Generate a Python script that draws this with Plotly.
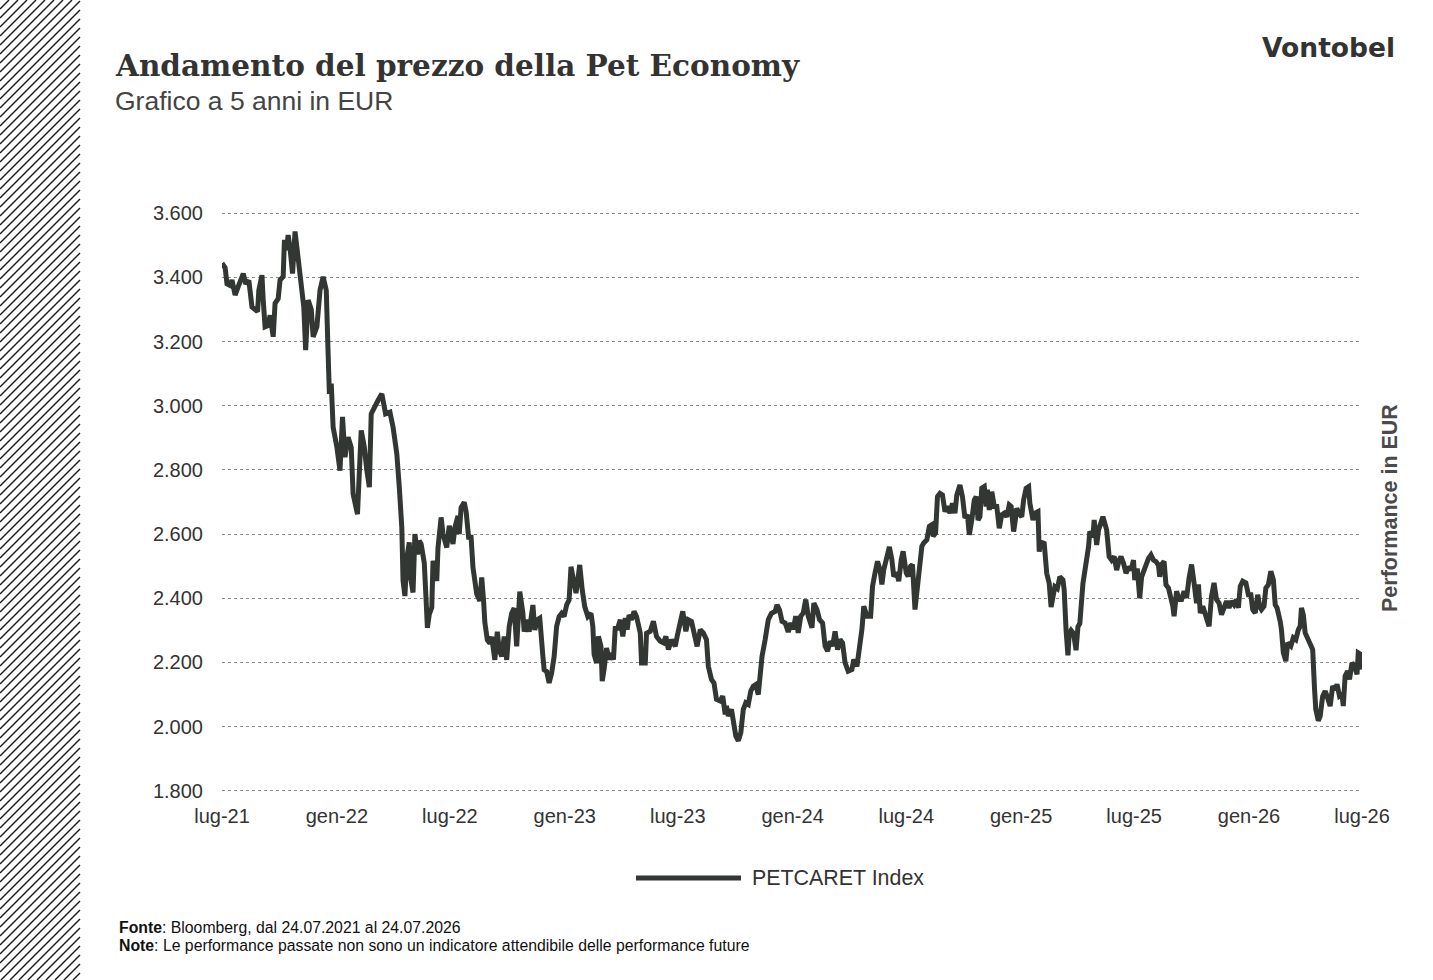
import pandas as pd
import plotly.graph_objects as go

# ---------------- data ----------------
start_date = "2021-07-24"
series_name = "PETCARET Index"

# days since 24.07.2021 for each reading
day_offsets = [
    0, 5, 8, 13, 16, 21, 26, 30, 34, 38,
    43, 48, 53, 57, 59, 64, 66, 69, 74, 77,
    82, 85, 90, 93, 98, 100, 103, 106, 109, 113,
    117, 122, 128, 131, 134, 138, 143, 146, 152, 157,
    162, 167, 170, 172, 175, 178, 184, 189, 193, 197,
    202, 207, 210, 217, 223, 228, 232, 236, 239, 244,
    250, 256, 259, 262, 269, 274, 280, 282, 284, 288,
    290, 293, 296, 300, 302, 306, 309, 313, 316, 319,
    324, 327, 329, 332, 336, 338, 344, 346, 351, 354,
    360, 364, 370, 373, 378, 380, 383, 388, 391, 395,
    399, 402, 405, 408, 413, 416, 419, 421, 425, 429,
    432, 435, 437, 441, 444, 448, 452, 456, 460, 464,
    468, 472, 475, 477, 482, 484, 488, 492, 498, 501,
    505, 509, 514, 516, 520, 524, 528, 532, 536, 540,
    544, 548, 552, 556, 559, 563, 567, 570, 573, 577,
    581, 586, 591, 594, 596, 600, 603, 607, 609, 612,
    616, 620, 623, 627, 630, 633, 638, 642, 646, 649,
    652, 656, 660, 664, 670, 672, 678, 680, 686, 691,
    696, 702, 707, 711, 715, 720, 726, 729, 734, 738,
    743, 747, 752, 758, 761, 766, 771, 776, 779, 784,
    788, 792, 798, 802, 806, 808, 811, 816, 820, 823,
    827, 831, 835, 839, 843, 847, 851, 855, 859, 862,
    865, 870, 872, 875, 880, 886, 889, 893, 897, 902,
    907, 911, 915, 919, 923, 927, 931, 935, 939, 945,
    948, 953, 957, 962, 966, 970, 974, 978, 982, 986,
    990, 994, 998, 1003, 1009, 1012, 1017, 1021, 1025, 1028,
    1033, 1039, 1042, 1046, 1050, 1054, 1057, 1060, 1065, 1069,
    1073, 1076, 1081, 1084, 1088, 1091, 1096, 1099, 1103, 1106,
    1110, 1113, 1117, 1121, 1124, 1129, 1133, 1137, 1139, 1143,
    1146, 1150, 1154, 1158, 1162, 1166, 1170, 1174, 1177, 1182,
    1186, 1190, 1194, 1197, 1201, 1205, 1208, 1211, 1214, 1217,
    1221, 1224, 1226, 1229, 1233, 1237, 1241, 1245, 1249, 1253,
    1257, 1261, 1264, 1268, 1270, 1273, 1278, 1281, 1284, 1288,
    1292, 1294, 1299, 1302, 1307, 1309, 1311, 1317, 1321, 1325,
    1328, 1332, 1334, 1338, 1342, 1347, 1349, 1352, 1355, 1357,
    1360, 1364, 1368, 1371, 1374, 1379, 1382, 1385, 1388, 1390,
    1395, 1397, 1401, 1404, 1406, 1411, 1414, 1417, 1421, 1425,
    1429, 1433, 1437, 1440, 1444, 1448, 1452, 1456, 1460, 1462,
    1466, 1470, 1473, 1477, 1480, 1484, 1488, 1492, 1496, 1500,
    1502, 1505, 1509, 1512, 1516, 1520, 1523, 1525, 1529, 1533,
    1537, 1541, 1545, 1549, 1553, 1557, 1561, 1564, 1567, 1571,
    1575, 1578, 1581, 1585, 1589, 1593, 1597, 1601, 1605, 1609,
    1613, 1617, 1621, 1625, 1628, 1631, 1635, 1640, 1644, 1648,
    1651, 1655, 1659, 1662, 1665, 1669, 1672, 1676, 1680, 1684,
    1687, 1690, 1695, 1697, 1700, 1704, 1707, 1712, 1716, 1720,
    1724, 1727, 1729, 1732, 1735, 1739, 1743, 1747, 1750, 1752,
    1756, 1759, 1763, 1767, 1770, 1775, 1779, 1783, 1786, 1790,
    1794, 1796, 1799, 1803, 1806, 1810, 1814, 1818, 1820, 1824,
    1826,
]

index_values = [
    3444, 3430, 3380, 3375, 3392, 3345, 3371, 3390, 3412, 3380,
    3390, 3308, 3300, 3293, 3360, 3407, 3330, 3246, 3250, 3282,
    3215, 3319, 3334, 3392, 3402, 3517, 3485, 3532, 3490, 3412,
    3543, 3465, 3371, 3308, 3173, 3329, 3300, 3215, 3246, 3360,
    3402, 3360, 3162, 3037, 3069, 2933, 2871, 2798, 2965, 2840,
    2902, 2870, 2725, 2662, 2923, 2871, 2798, 2746, 2975, 2996,
    3017, 3037, 3000, 2975, 2980, 2933, 2850, 2767, 2746, 2620,
    2454, 2407, 2527, 2574, 2465, 2418, 2600, 2537, 2579, 2569,
    2510, 2392, 2308, 2350, 2371, 2517, 2454, 2558, 2652, 2600,
    2558, 2626, 2569, 2621, 2657, 2600, 2683, 2699, 2670, 2590,
    2590, 2496, 2454, 2413, 2392, 2465, 2392, 2325, 2270, 2260,
    2280, 2219, 2208, 2296, 2239, 2219, 2281, 2208, 2312, 2353,
    2369, 2250, 2353, 2421, 2353, 2296, 2333, 2296, 2379, 2301,
    2333, 2338, 2219, 2177, 2172, 2136, 2167, 2219, 2312, 2343,
    2353, 2343, 2379, 2395, 2498, 2457, 2416, 2457, 2504, 2426,
    2374, 2343, 2353, 2312, 2225, 2198, 2281, 2250, 2142, 2178,
    2245, 2209, 2230, 2209, 2312, 2302, 2333, 2281, 2338, 2302,
    2348, 2333, 2359, 2343, 2291, 2198, 2198, 2291, 2297, 2328,
    2281, 2266, 2261, 2281, 2240, 2271, 2250, 2281, 2333, 2359,
    2297, 2333, 2328, 2281, 2250, 2302, 2292, 2271, 2188, 2147,
    2136, 2085, 2080, 2095, 2038, 2064, 2033, 2054, 1992, 1971,
    1956, 1981, 2054, 2074, 2069, 2111, 2126, 2131, 2100, 2167,
    2219, 2271, 2302, 2333, 2353, 2359, 2379, 2364, 2328, 2323,
    2295, 2323, 2303, 2344, 2292, 2344, 2354, 2396, 2344, 2308,
    2385, 2365, 2334, 2323, 2251, 2235, 2266, 2251, 2297, 2240,
    2271, 2261, 2199, 2173, 2178, 2209, 2188, 2240, 2303, 2375,
    2344, 2344, 2437, 2479, 2515, 2489, 2443, 2489, 2525, 2560,
    2520, 2468, 2479, 2453, 2520, 2546, 2479, 2468, 2500, 2505,
    2365, 2427, 2489, 2562, 2572, 2582, 2624, 2629, 2593, 2603,
    2717, 2727, 2722, 2670, 2686, 2665, 2696, 2665, 2722, 2753,
    2717, 2650, 2660, 2598, 2644, 2706, 2717, 2644, 2654, 2743,
    2748, 2686, 2738, 2675, 2732, 2686, 2686, 2618, 2660, 2665,
    2654, 2691, 2686, 2608, 2634, 2680, 2660, 2654, 2706, 2743,
    2748, 2696, 2644, 2665, 2670, 2545, 2576, 2571, 2478, 2446,
    2373, 2405, 2436, 2430, 2467, 2457, 2425, 2300, 2222, 2290,
    2300, 2290, 2238, 2311, 2321, 2446, 2478, 2530, 2561, 2608,
    2592, 2644, 2566, 2613, 2628, 2654, 2634, 2613, 2530, 2519,
    2530, 2488, 2519, 2530, 2509, 2478, 2498, 2488, 2519, 2457,
    2493, 2400, 2467, 2488, 2509, 2524, 2535, 2519, 2514, 2503,
    2467, 2505, 2515, 2442, 2432, 2406, 2375, 2344, 2422, 2396,
    2396, 2422, 2401, 2463, 2505, 2448, 2385, 2443, 2354, 2375,
    2344, 2323, 2313, 2406, 2448, 2396, 2385, 2349, 2375, 2391,
    2370, 2391, 2380, 2396, 2370, 2437, 2453, 2448, 2411, 2411,
    2365, 2354, 2411, 2375, 2365, 2375, 2432, 2442, 2484, 2458,
    2380, 2370, 2328, 2302, 2230, 2204, 2261, 2251, 2277, 2271,
    2302, 2313, 2370, 2349, 2292, 2277, 2261, 2240, 2116, 2054,
    2018, 2033, 2095, 2111, 2095, 2064, 2126, 2116, 2132, 2095,
    2100, 2064, 2158, 2173, 2147, 2199, 2189, 2163, 2230, 2225,
    2178,
]

x_tick_dates = ["2021-07-24", "2022-01-24", "2022-07-24", "2023-01-24",
                "2023-07-24", "2024-01-24", "2024-07-24", "2025-01-24",
                "2025-07-24", "2026-01-24", "2026-07-24"]
x_tick_labels = ["lug-21", "gen-22", "lug-22", "gen-23", "lug-23", "gen-24",
                 "lug-24", "gen-25", "lug-25", "gen-26", "lug-26"]
y_tick_values = [1800, 2000, 2200, 2400, 2600, 2800, 3000, 3200, 3400, 3600]
y_tick_labels = ["1.800", "2.000", "2.200", "2.400", "2.600", "2.800",
                 "3.000", "3.200", "3.400", "3.600"]

title_text = "Andamento del prezzo della Pet Economy"
subtitle_text = "Grafico a 5 anni in EUR"
brand_text = "Vontobel"
axis_title_text = "Performance in EUR"
source_text = "<b>Fonte</b>: Bloomberg, dal 24.07.2021 al 24.07.2026"
note_text = ("<b>Note</b>: Le performance passate non sono un indicatore "
             "attendibile delle performance future")

assert len(day_offsets) == len(index_values)

# ---------------- layout helpers ----------------
W, H = 1433, 980
ML, MR, MT, MB = 222, 71, 210, 186
PW, PH = W - ML - MR, H - MT - MB


def px(x):
    return (x - ML) / PW


def py(y):
    return 1 - (y - MT) / PH


LINE_COLOR = "#333733"
TEXT_COLOR = "#333333"
SANS = "Liberation Sans, Arial, sans-serif"

dates = pd.Timestamp(start_date) + pd.to_timedelta(day_offsets, unit="D")

fig = go.Figure()
fig.add_trace(go.Scatter(
    x=dates, y=index_values, mode="lines", name=series_name,
    line=dict(color=LINE_COLOR, width=5),
    showlegend=False,
))

# ---------------- hatched strip on the left ----------------
shapes = []
strip_w = 80
step = 9
c = 0
while c < H + strip_w:
    x0 = max(0, c - H)
    x1 = min(strip_w, c)
    if x1 > x0:
        shapes.append(dict(
            type="line", xref="paper", yref="paper",
            x0=px(x0), y0=py(c - x0), x1=px(x1), y1=py(c - x1),
            line=dict(color="#1a1a1a", width=1.4),
        ))
    c += step

# legend swatch
shapes.append(dict(
    type="line", xref="paper", yref="paper",
    x0=px(636), x1=px(741), y0=py(878), y1=py(878),
    line=dict(color=LINE_COLOR, width=5),
))


def note(text, x, y, size, color, family=SANS, xanchor="left", angle=0):
    return dict(text=text, x=px(x), y=py(y), xref="paper", yref="paper",
                xanchor=xanchor, yanchor="middle", showarrow=False,
                textangle=angle,
                font=dict(family=family, size=size, color=color))


annotations = [
    note("<b>" + title_text + "</b>", 113, 66, 29.5, TEXT_COLOR,
         family="DejaVu Serif, Georgia, serif"),
    note(subtitle_text, 113, 101, 26.5, "#444444"),
    note("<b>" + brand_text + "</b>", 1397, 48, 26.5, TEXT_COLOR,
         family="DejaVu Sans, sans-serif", xanchor="right"),
    note("<b>" + axis_title_text + "</b>", 1390, 508, 21.5, "#4a4a4a",
         xanchor="center", angle=-90),
    note(series_name, 750, 878, 21.4, TEXT_COLOR),
    note(source_text, 117, 927, 15.8, "#111111"),
    note(note_text, 117, 945, 15.8, "#111111"),
]

fig.update_layout(
    width=W, height=H,
    margin=dict(l=ML, r=MR, t=MT, b=MB, autoexpand=False),
    paper_bgcolor="white", plot_bgcolor="white",
    font=dict(family=SANS, size=20, color=TEXT_COLOR),
    shapes=shapes, annotations=annotations,
    showlegend=False,
)
fig.update_xaxes(
    range=[pd.Timestamp("2021-07-24"), pd.Timestamp("2026-07-24")],
    tickmode="array", tickvals=x_tick_dates, ticktext=x_tick_labels,
    showgrid=False, zeroline=False, showline=False,
    ticks="outside", ticklen=4, tickcolor="rgba(0,0,0,0)",
    tickfont=dict(size=20, color=TEXT_COLOR),
)
fig.update_yaxes(
    range=[1790, 3610],
    tickmode="array", tickvals=y_tick_values, ticktext=y_tick_labels,
    showgrid=True, gridcolor="#8c8c8c", gridwidth=1, griddash="dot",
    zeroline=False, showline=False,
    ticks="outside", ticklen=14, tickcolor="rgba(0,0,0,0)",
    tickfont=dict(size=20, color=TEXT_COLOR),
)

fig.write_html("out.html")
